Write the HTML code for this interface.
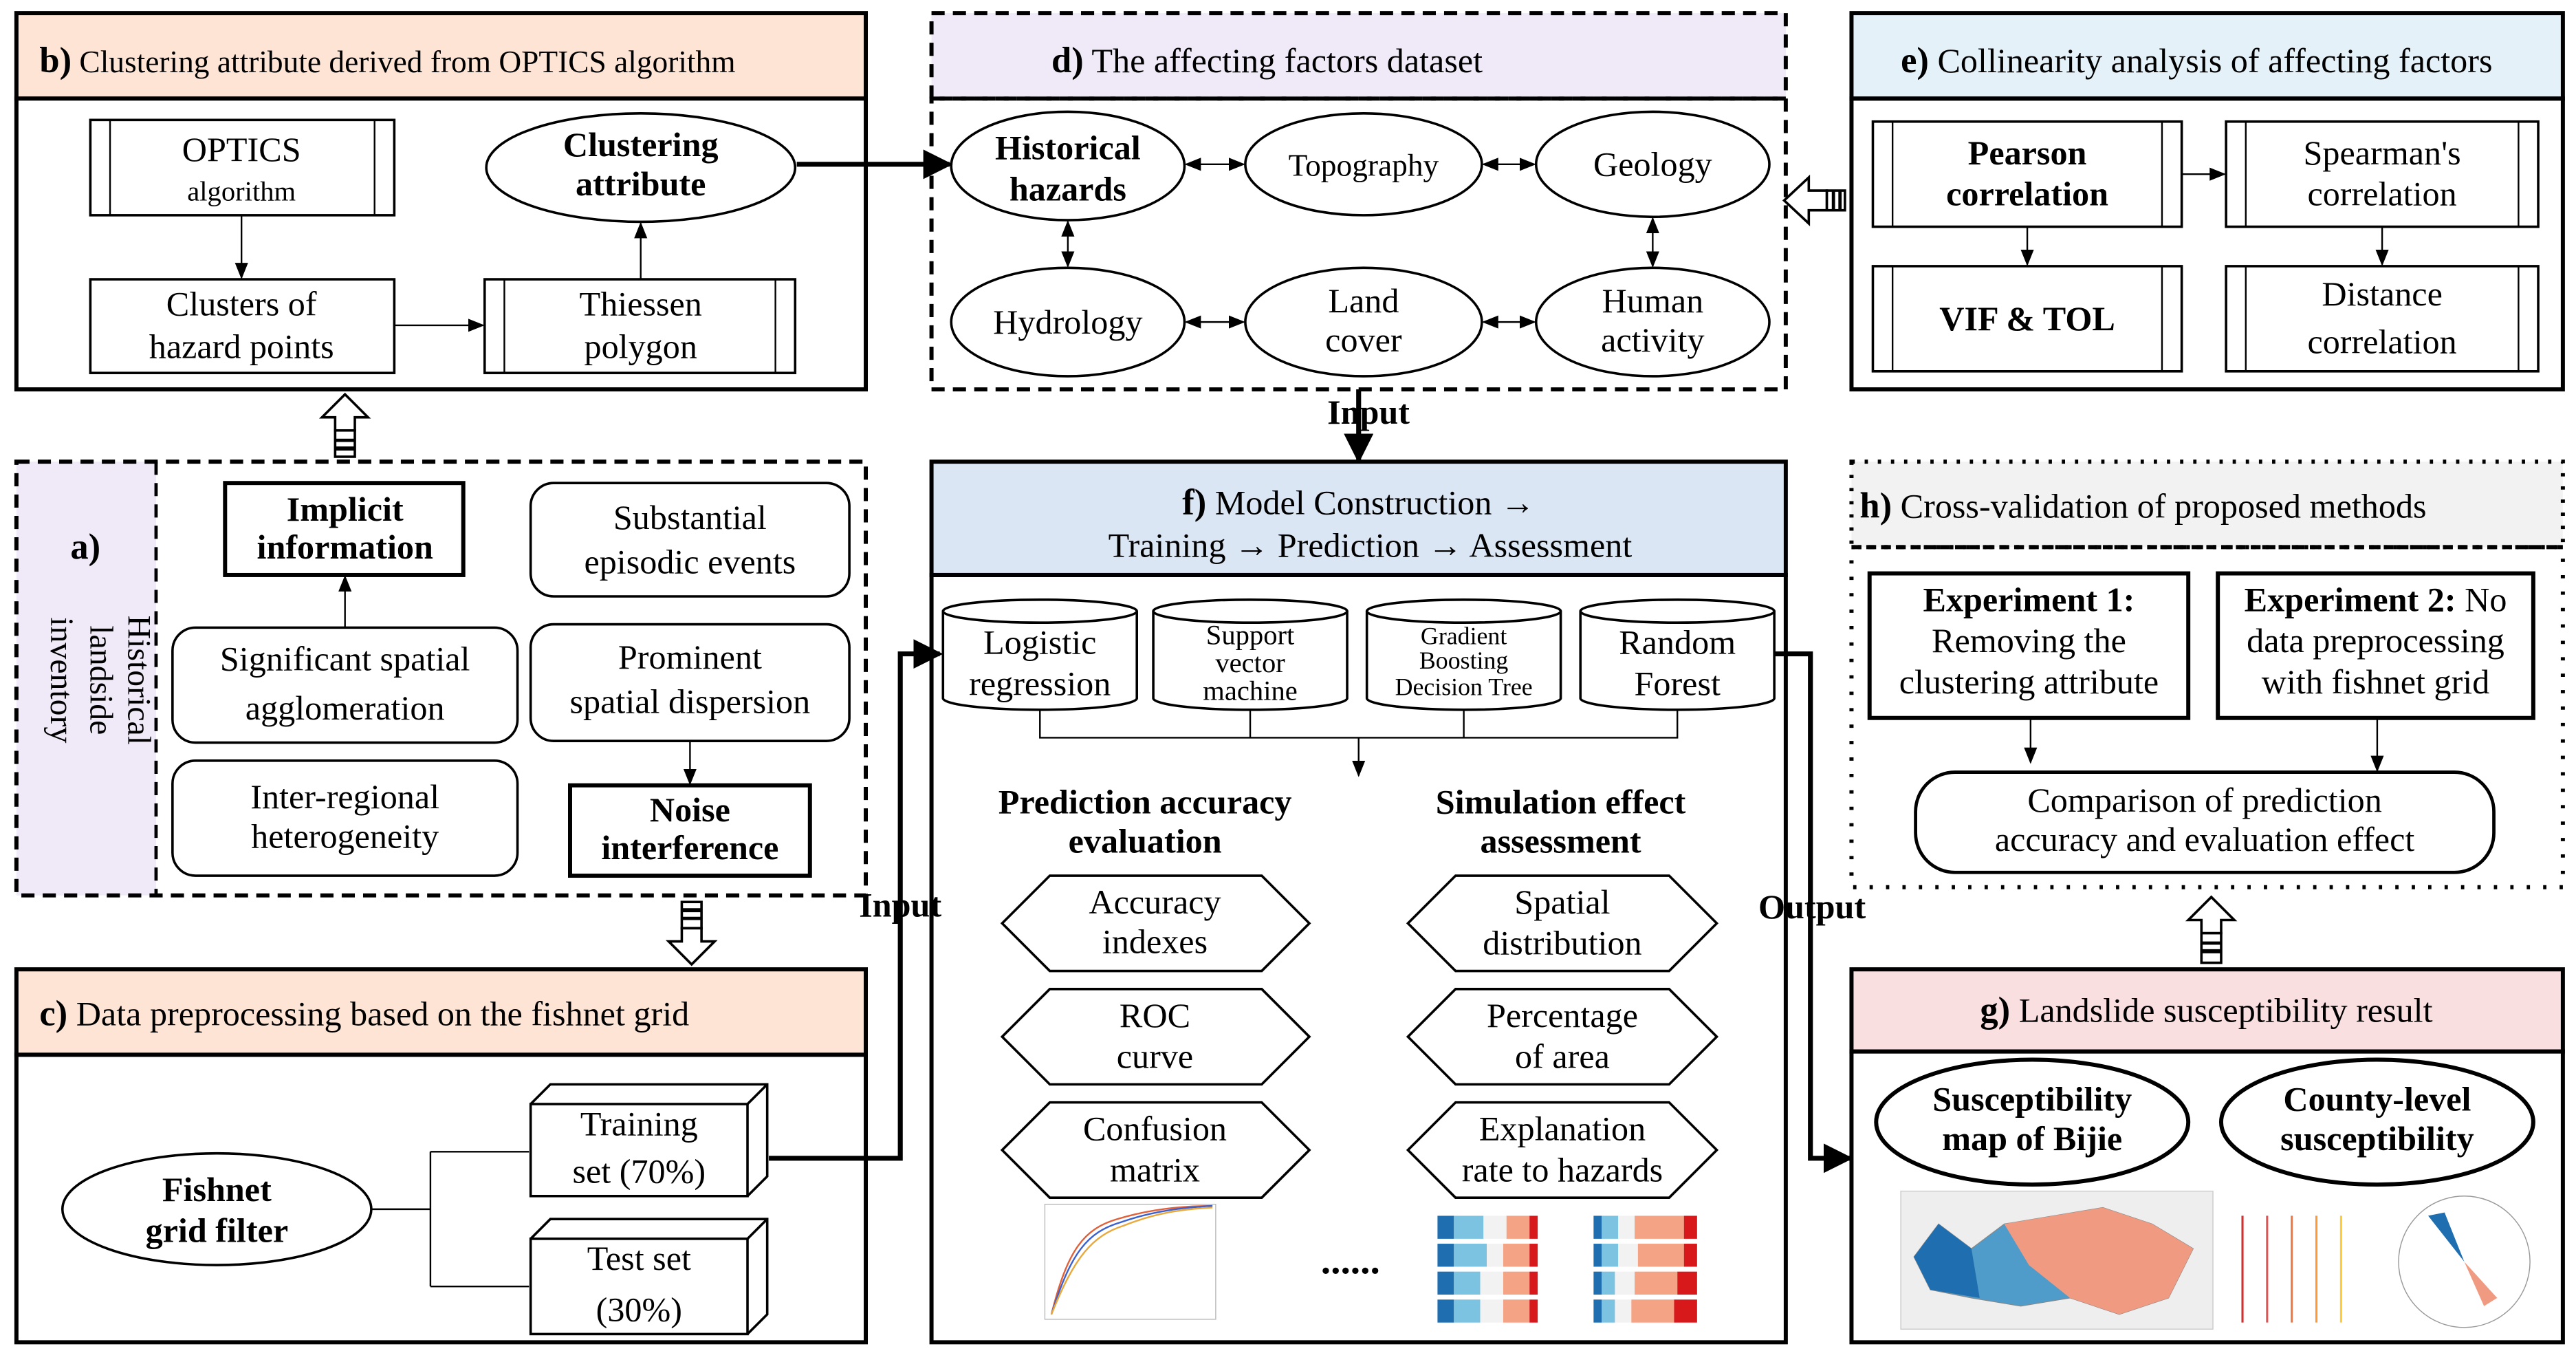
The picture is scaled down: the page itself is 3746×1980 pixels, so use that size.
<!DOCTYPE html>
<html><head><meta charset="utf-8"><style>
html,body{margin:0;padding:0;background:#fff}
svg{display:block}
text{font-family:"Liberation Serif","Times New Roman",serif;fill:#000}
.b{font-weight:bold}
</style></head><body>
<svg width="3746" height="1980" viewBox="0 0 1568 829" preserveAspectRatio="none" xmlns="http://www.w3.org/2000/svg" font-family="Liberation Serif, serif">
<defs>
<marker id="a" markerWidth="10" markerHeight="10" refX="9" refY="5" orient="auto" markerUnits="userSpaceOnUse"><path d="M0,1 L10,5 L0,9 z" fill="#000"/></marker>
<marker id="as" markerWidth="10" markerHeight="10" refX="1" refY="5" orient="auto" markerUnits="userSpaceOnUse"><path d="M10,1 L0,5 L10,9 z" fill="#000"/></marker>
<marker id="A" markerWidth="18" markerHeight="18" refX="16" refY="9" orient="auto" markerUnits="userSpaceOnUse"><path d="M0,0 L18,9 L0,18 z" fill="#000"/></marker>
</defs>
<g fill="none" stroke="#000">
<rect x="10" y="8" width="517" height="52" fill="#fde4d4" stroke-width="2.5"/>
<rect x="10" y="60" width="517" height="177" fill="#fff" stroke-width="2.5"/>
<rect x="55" y="73" width="185" height="58" stroke-width="1.5"/><line x1="67" y1="73" x2="67" y2="131"/><line x1="228" y1="73" x2="228" y2="131"/>
<rect x="55" y="170" width="185" height="57" stroke-width="1.5"/>
<rect x="295" y="170" width="189" height="57" stroke-width="1.5"/><line x1="307" y1="170" x2="307" y2="227"/><line x1="472" y1="170" x2="472" y2="227"/>
<ellipse cx="390" cy="102" rx="94" ry="33" stroke-width="1.5"/>
<line x1="147" y1="131" x2="147" y2="169" marker-end="url(#a)"/>
<line x1="240" y1="198" x2="294" y2="198" marker-end="url(#a)"/>
<line x1="390" y1="170" x2="390" y2="136" marker-end="url(#a)"/>
<line x1="485" y1="100" x2="578" y2="100" stroke-width="3" marker-end="url(#A)"/>
<rect x="567" y="8" width="520" height="52" fill="#f0e9f7" stroke-width="2.5" stroke-dasharray="8,5"/>
<rect x="567" y="60" width="520" height="177" stroke-width="2.5" stroke-dasharray="8,5"/>
<line x1="567" y1="60" x2="1087" y2="60" stroke-width="2" stroke-dasharray="10,4,2,4"/>
<ellipse cx="650" cy="101" rx="71" ry="33" stroke-width="1.5"/>
<ellipse cx="830" cy="100" rx="72" ry="31" stroke-width="1.5"/>
<ellipse cx="1006" cy="100" rx="71" ry="32" stroke-width="1.5"/>
<ellipse cx="650" cy="196" rx="71" ry="33" stroke-width="1.5"/>
<ellipse cx="830" cy="196" rx="72" ry="33" stroke-width="1.5"/>
<ellipse cx="1006" cy="196" rx="71" ry="33" stroke-width="1.5"/>
<line x1="722" y1="100" x2="757" y2="100" marker-start="url(#as)" marker-end="url(#a)"/>
<line x1="903" y1="100" x2="934" y2="100" marker-start="url(#as)" marker-end="url(#a)"/>
<line x1="722" y1="196" x2="757" y2="196" marker-start="url(#as)" marker-end="url(#a)"/>
<line x1="903" y1="196" x2="934" y2="196" marker-start="url(#as)" marker-end="url(#a)"/>
<line x1="650" y1="135" x2="650" y2="162" marker-start="url(#as)" marker-end="url(#a)"/>
<line x1="1006" y1="133" x2="1006" y2="162" marker-start="url(#as)" marker-end="url(#a)"/>
<rect x="1127" y="8" width="433" height="52" fill="#e4f1f9" stroke-width="2.5"/>
<rect x="1127" y="60" width="433" height="177" stroke-width="2.5"/>
<rect x="1140" y="74" width="188" height="64" stroke-width="1.5"/><line x1="1152" y1="74" x2="1152" y2="138"/><line x1="1316" y1="74" x2="1316" y2="138"/>
<rect x="1355" y="74" width="190" height="64" stroke-width="1.5"/><line x1="1367" y1="74" x2="1367" y2="138"/><line x1="1533" y1="74" x2="1533" y2="138"/>
<rect x="1140" y="162" width="188" height="64" stroke-width="1.5"/><line x1="1152" y1="162" x2="1152" y2="226"/><line x1="1316" y1="162" x2="1316" y2="226"/>
<rect x="1355" y="162" width="190" height="64" stroke-width="1.5"/><line x1="1367" y1="162" x2="1367" y2="226"/><line x1="1533" y1="162" x2="1533" y2="226"/>
<line x1="1328" y1="106" x2="1354" y2="106" marker-end="url(#a)"/>
<line x1="1234" y1="138" x2="1234" y2="161" marker-end="url(#a)"/>
<line x1="1450" y1="138" x2="1450" y2="161" marker-end="url(#a)"/>
<path d="M1086,122 L1101,108 L1101,116 L1112,116 L1112,128 L1101,128 L1101,136 Z" fill="#fff" stroke-width="1.5"/>
<rect x="1112" y="116" width="11" height="12" fill="#fff" stroke-width="1.5"/><line x1="1116" y1="116" x2="1116" y2="128" stroke-width="2"/><line x1="1120" y1="116" x2="1120" y2="128" stroke-width="2"/>
<rect x="10" y="281" width="85" height="264" fill="#f0e9f7" stroke="none"/>
<rect x="10" y="281" width="517" height="264" stroke-width="2.5" stroke-dasharray="8,5"/>
<line x1="95" y1="281" x2="95" y2="545" stroke-width="2" stroke-dasharray="8,5"/>
<rect x="137" y="294" width="145" height="56" stroke-width="2.5"/>
<rect x="323" y="294" width="194" height="69" rx="14" stroke-width="1.5"/>
<rect x="105" y="382" width="210" height="70" rx="14" stroke-width="1.5"/>
<rect x="323" y="380" width="194" height="71" rx="14" stroke-width="1.5"/>
<rect x="105" y="463" width="210" height="70" rx="14" stroke-width="1.5"/>
<rect x="347" y="478" width="146" height="55" stroke-width="2.5"/>
<line x1="210" y1="382" x2="210" y2="351" marker-end="url(#a)"/>
<line x1="420" y1="451" x2="420" y2="477" marker-end="url(#a)"/>
<path d="M210,240 L224,254 L216,254 L216,262 L204,262 L204,254 L196,254 Z" fill="#fff" stroke-width="1.5"/>
<rect x="204" y="262" width="12" height="16" fill="#fff" stroke-width="1.5"/><line x1="204" y1="268" x2="216" y2="268" stroke-width="2"/><line x1="204" y1="273" x2="216" y2="273" stroke-width="2.5"/>
<rect x="415" y="549" width="12" height="16" fill="#fff" stroke-width="1.5"/><line x1="415" y1="554" x2="427" y2="554" stroke-width="2.5"/><line x1="415" y1="559" x2="427" y2="559" stroke-width="2"/>
<path d="M415,565 L427,565 L427,573 L435,573 L421,587 L407,573 L415,573 Z" fill="#fff" stroke-width="1.5"/>
<rect x="10" y="590" width="517" height="52" fill="#fde4d4" stroke-width="2.5"/>
<rect x="10" y="642" width="517" height="175" stroke-width="2.5"/>
<ellipse cx="132" cy="736" rx="94" ry="34" stroke-width="1.5"/>
<path d="M323,672 L335,660 L467,660 L467,716 L455,728 M455,672 L467,660" stroke-width="1.5"/>
<rect x="323" y="672" width="132" height="56" stroke-width="1.5"/>
<path d="M323,754 L335,742 L467,742 L467,800 L455,812 M455,754 L467,742" stroke-width="1.5"/>
<rect x="323" y="754" width="132" height="58" stroke-width="1.5"/>
<path d="M226,736 L262,736 M262,701 L262,783 M262,701 L322,701 M262,783 L322,783" stroke-width="1"/>
<path d="M468,705 L548,705 L548,398 L572,398" stroke-width="3" marker-end="url(#A)"/>
<rect x="567" y="281" width="520" height="69" fill="#dbe6f4" stroke-width="2.5"/>
<rect x="567" y="350" width="520" height="467" stroke-width="2.5"/>
<line x1="827" y1="237" x2="827" y2="280" stroke-width="3" marker-end="url(#A)"/>
<g stroke-width="1.5">
<path d="M574,372 L574,425 A59,7 0 0 0 692,425 L692,372"/><ellipse cx="633" cy="372" rx="59" ry="7"/>
<path d="M702,372 L702,425 A59,7 0 0 0 820,425 L820,372"/><ellipse cx="761" cy="372" rx="59" ry="7"/>
<path d="M832,372 L832,425 A59,7 0 0 0 950,425 L950,372"/><ellipse cx="891" cy="372" rx="59" ry="7"/>
<path d="M962,372 L962,425 A59,7 0 0 0 1080,425 L1080,372"/><ellipse cx="1021" cy="372" rx="59" ry="7"/>
</g>
<path d="M633,432 L633,449 L1021,449 L1021,432 M761,432 L761,449 M891,432 L891,449"/>
<line x1="827" y1="449" x2="827" y2="472" marker-end="url(#a)"/>
<g stroke-width="1.5">
<path d="M639,533 L768,533 L797,562 L768,591 L639,591 L610,562 Z"/>
<path d="M639,602 L768,602 L797,631 L768,660 L639,660 L610,631 Z"/>
<path d="M639,671 L768,671 L797,700 L768,729 L639,729 L610,700 Z"/>
<path d="M886,533 L1016,533 L1045,562 L1016,591 L886,591 L857,562 Z"/>
<path d="M886,602 L1016,602 L1045,631 L1016,660 L886,660 L857,631 Z"/>
<path d="M886,671 L1016,671 L1045,700 L1016,729 L886,729 L857,700 Z"/>
</g>
<rect x="636" y="733" width="104" height="70" stroke="#bbb" stroke-width="0.6"/>
<path d="M640,800 C650,760 660,748 680,742 C700,736 720,734 738,734" stroke="#e0603a" stroke-width="1"/>
<path d="M640,800 C652,762 662,750 682,744 C702,737 720,735 738,734" stroke="#3a5fcf" stroke-width="1"/>
<path d="M640,800 C654,765 665,752 684,746 C704,738 720,736 738,735" stroke="#e8a83a" stroke-width="1"/>
<g stroke="none">
<rect x="875" y="740" width="10" height="14" fill="#1f6fb0"/><rect x="885" y="740" width="18" height="14" fill="#7cc3e2"/><rect x="903" y="740" width="14" height="14" fill="#f2f2f2"/><rect x="917" y="740" width="14" height="14" fill="#f4a384"/><rect x="931" y="740" width="5" height="14" fill="#d7191c"/>
<rect x="875" y="757" width="10" height="14" fill="#1f6fb0"/><rect x="885" y="757" width="20" height="14" fill="#7cc3e2"/><rect x="905" y="757" width="10" height="14" fill="#f2f2f2"/><rect x="915" y="757" width="16" height="14" fill="#f4a384"/><rect x="931" y="757" width="5" height="14" fill="#d7191c"/>
<rect x="875" y="774" width="10" height="14" fill="#1f6fb0"/><rect x="885" y="774" width="16" height="14" fill="#7cc3e2"/><rect x="901" y="774" width="14" height="14" fill="#f2f2f2"/><rect x="915" y="774" width="16" height="14" fill="#f4a384"/><rect x="931" y="774" width="5" height="14" fill="#d7191c"/>
<rect x="875" y="791" width="10" height="14" fill="#1f6fb0"/><rect x="885" y="791" width="16" height="14" fill="#7cc3e2"/><rect x="901" y="791" width="14" height="14" fill="#f2f2f2"/><rect x="915" y="791" width="16" height="14" fill="#f4a384"/><rect x="931" y="791" width="5" height="14" fill="#d7191c"/>
<rect x="970" y="740" width="5" height="14" fill="#1f6fb0"/><rect x="975" y="740" width="10" height="14" fill="#7cc3e2"/><rect x="985" y="740" width="10" height="14" fill="#f2f2f2"/><rect x="995" y="740" width="30" height="14" fill="#f4a384"/><rect x="1025" y="740" width="8" height="14" fill="#d7191c"/>
<rect x="970" y="757" width="5" height="14" fill="#1f6fb0"/><rect x="975" y="757" width="10" height="14" fill="#7cc3e2"/><rect x="985" y="757" width="12" height="14" fill="#f2f2f2"/><rect x="997" y="757" width="28" height="14" fill="#f4a384"/><rect x="1025" y="757" width="8" height="14" fill="#d7191c"/>
<rect x="970" y="774" width="5" height="14" fill="#1f6fb0"/><rect x="975" y="774" width="8" height="14" fill="#7cc3e2"/><rect x="983" y="774" width="12" height="14" fill="#f2f2f2"/><rect x="995" y="774" width="26" height="14" fill="#f4a384"/><rect x="1021" y="774" width="12" height="14" fill="#d7191c"/>
<rect x="970" y="791" width="5" height="14" fill="#1f6fb0"/><rect x="975" y="791" width="8" height="14" fill="#7cc3e2"/><rect x="983" y="791" width="10" height="14" fill="#f2f2f2"/><rect x="993" y="791" width="26" height="14" fill="#f4a384"/><rect x="1019" y="791" width="14" height="14" fill="#d7191c"/>
</g>
<path d="M1080,398 L1102,398 L1102,705 L1126,705" stroke-width="3" marker-end="url(#A)"/>
<rect x="1127" y="281" width="433" height="52" fill="#f2f2f2" stroke-width="2.5" stroke-dasharray="2,6"/>
<line x1="1127" y1="333" x2="1560" y2="333" stroke-width="2.5" stroke-dasharray="6,3"/>
<rect x="1127" y="333" width="433" height="207" stroke-width="2.5" stroke-dasharray="2,8"/>
<rect x="1138" y="349" width="194" height="88" stroke-width="2.5"/>
<rect x="1350" y="349" width="192" height="88" stroke-width="2.5"/>
<rect x="1166" y="470" width="352" height="61" rx="24" stroke-width="2"/>
<line x1="1236" y1="437" x2="1236" y2="464" marker-end="url(#a)"/>
<line x1="1447" y1="437" x2="1447" y2="469" marker-end="url(#a)"/>
<path d="M1346,546 L1360,560 L1352,560 L1352,568 L1340,568 L1340,560 L1332,560 Z" fill="#fff" stroke-width="1.5"/>
<rect x="1340" y="568" width="12" height="18" fill="#fff" stroke-width="1.5"/><line x1="1340" y1="574" x2="1352" y2="574" stroke-width="2"/><line x1="1340" y1="579" x2="1352" y2="579" stroke-width="2.5"/>
<rect x="1127" y="590" width="433" height="50" fill="#f9dfdf" stroke-width="2.5"/>
<rect x="1127" y="640" width="433" height="177" stroke-width="2.5"/>
<ellipse cx="1237" cy="683" rx="95" ry="38" stroke-width="2.5"/>
<ellipse cx="1447" cy="683" rx="95" ry="38" stroke-width="2.5"/>
<rect x="1157" y="725" width="190" height="84" fill="#eee" stroke="#ccc" stroke-width="0.6"/>
<path d="M1165,765 L1180,745 L1200,760 L1220,745 L1250,740 L1280,735 L1310,745 L1335,760 L1320,790 L1290,800 L1260,790 L1230,795 L1200,790 L1175,785 Z" fill="#4f9ccb" stroke="#888" stroke-width="0.5"/>
<path d="M1220,745 L1250,740 L1280,735 L1310,745 L1335,760 L1320,790 L1290,800 L1260,790 L1235,770 Z" fill="#f09a82" stroke="none"/>
<path d="M1165,765 L1180,745 L1200,760 L1205,790 L1175,785 Z" fill="#1f6fb0" stroke="none"/>
<g stroke-width="1.3"><path d="M1365,740 L1365,805" stroke="#c33"/><path d="M1380,740 L1380,805" stroke="#d55"/><path d="M1395,740 L1395,805" stroke="#e74"/><path d="M1410,740 L1410,805" stroke="#f93"/><path d="M1425,740 L1425,805" stroke="#fc3"/></g>
<circle cx="1500" cy="768" r="40" stroke="#999" stroke-width="0.6"/>
<path d="M1500,768 L1478,740 L1488,738 Z" fill="#1f6fb0" stroke="none"/><path d="M1500,768 L1520,790 L1512,795 Z" fill="#f09a82" stroke="none"/>
</g>
<g font-size="21">
<text x="24" y="44"><tspan class="b" font-size="22">b)</tspan><tspan font-size="19"> Clustering attribute derived from OPTICS algorithm</tspan></text>
<text x="147" y="98" text-anchor="middle">OPTICS</text>
<text x="147" y="122" text-anchor="middle" font-size="17">algorithm</text>
<text x="147" y="192" text-anchor="middle">Clusters of</text>
<text x="147" y="218" text-anchor="middle">hazard points</text>
<text x="390" y="192" text-anchor="middle">Thiessen</text>
<text x="390" y="218" text-anchor="middle">polygon</text>
<text x="390" y="95" text-anchor="middle" class="b">Clustering</text>
<text x="390" y="119" text-anchor="middle" class="b">attribute</text>
<text x="640" y="44"><tspan class="b" font-size="22">d)</tspan> The affecting factors dataset</text>
<text x="650" y="97" text-anchor="middle" class="b">Historical</text>
<text x="650" y="122" text-anchor="middle" class="b">hazards</text>
<text x="830" y="107" text-anchor="middle" font-size="19">Topography</text>
<text x="1006" y="107" text-anchor="middle">Geology</text>
<text x="650" y="203" text-anchor="middle">Hydrology</text>
<text x="830" y="190" text-anchor="middle">Land</text>
<text x="830" y="214" text-anchor="middle">cover</text>
<text x="1006" y="190" text-anchor="middle">Human</text>
<text x="1006" y="214" text-anchor="middle">activity</text>
<text x="1157" y="44"><tspan class="b" font-size="22">e)</tspan> Collinearity analysis of affecting factors</text>
<text x="1234" y="100" text-anchor="middle" class="b">Pearson</text>
<text x="1234" y="125" text-anchor="middle" class="b">correlation</text>
<text x="1450" y="100" text-anchor="middle">Spearman's</text>
<text x="1450" y="125" text-anchor="middle">correlation</text>
<text x="1234" y="201" text-anchor="middle" class="b">VIF &amp; TOL</text>
<text x="1450" y="186" text-anchor="middle">Distance</text>
<text x="1450" y="215" text-anchor="middle">correlation</text>
<text x="52" y="340" text-anchor="middle" class="b" font-size="22">a)</text>
<g transform="translate(78,414) rotate(90)"><text text-anchor="middle" font-size="20">Historical</text></g>
<g transform="translate(55,414) rotate(90)"><text text-anchor="middle" font-size="20">landside</text></g>
<g transform="translate(31,414) rotate(90)"><text text-anchor="middle" font-size="20">inventory</text></g>
<text x="210" y="317" text-anchor="middle" class="b">Implicit</text>
<text x="210" y="340" text-anchor="middle" class="b">information</text>
<text x="420" y="322" text-anchor="middle">Substantial</text>
<text x="420" y="349" text-anchor="middle">episodic events</text>
<text x="210" y="408" text-anchor="middle">Significant spatial</text>
<text x="210" y="438" text-anchor="middle">agglomeration</text>
<text x="420" y="407" text-anchor="middle">Prominent</text>
<text x="420" y="434" text-anchor="middle">spatial dispersion</text>
<text x="210" y="492" text-anchor="middle">Inter-regional</text>
<text x="210" y="516" text-anchor="middle">heterogeneity</text>
<text x="420" y="500" text-anchor="middle" class="b">Noise</text>
<text x="420" y="523" text-anchor="middle" class="b">interference</text>
<text x="24" y="624"><tspan class="b" font-size="22">c)</tspan> Data preprocessing based on the fishnet grid</text>
<text x="132" y="731" text-anchor="middle" class="b">Fishnet</text>
<text x="132" y="756" text-anchor="middle" class="b">grid filter</text>
<text x="389" y="691" text-anchor="middle">Training</text>
<text x="389" y="720" text-anchor="middle">set (70%)</text>
<text x="389" y="773" text-anchor="middle">Test set</text>
<text x="389" y="804" text-anchor="middle">(30%)</text>
<text x="548" y="558" text-anchor="middle" class="b">Input</text>
<text x="833" y="258" text-anchor="middle" class="b">Input</text>
<text x="827" y="313" text-anchor="middle"><tspan class="b" font-size="22">f)</tspan> Model Construction →</text>
<text x="834" y="339" text-anchor="middle">Training → Prediction → Assessment</text>
<text x="633" y="398" text-anchor="middle">Logistic</text>
<text x="633" y="423" text-anchor="middle">regression</text>
<text x="761" y="392" text-anchor="middle" font-size="17">Support</text>
<text x="761" y="409" text-anchor="middle" font-size="17">vector</text>
<text x="761" y="426" text-anchor="middle" font-size="17">machine</text>
<text x="891" y="392" text-anchor="middle" font-size="15">Gradient</text>
<text x="891" y="407" text-anchor="middle" font-size="15">Boosting</text>
<text x="891" y="423" text-anchor="middle" font-size="15">Decision Tree</text>
<text x="1021" y="398" text-anchor="middle">Random</text>
<text x="1021" y="423" text-anchor="middle">Forest</text>
<text x="697" y="495" text-anchor="middle" class="b">Prediction accuracy</text>
<text x="697" y="519" text-anchor="middle" class="b">evaluation</text>
<text x="950" y="495" text-anchor="middle" class="b">Simulation effect</text>
<text x="950" y="519" text-anchor="middle" class="b">assessment</text>
<text x="703" y="556" text-anchor="middle">Accuracy</text>
<text x="703" y="580" text-anchor="middle">indexes</text>
<text x="703" y="625" text-anchor="middle">ROC</text>
<text x="703" y="650" text-anchor="middle">curve</text>
<text x="703" y="694" text-anchor="middle">Confusion</text>
<text x="703" y="719" text-anchor="middle">matrix</text>
<text x="951" y="556" text-anchor="middle">Spatial</text>
<text x="951" y="581" text-anchor="middle">distribution</text>
<text x="951" y="625" text-anchor="middle">Percentage</text>
<text x="951" y="650" text-anchor="middle">of area</text>
<text x="951" y="694" text-anchor="middle">Explanation</text>
<text x="951" y="719" text-anchor="middle">rate to hazards</text>
<text x="822" y="775" text-anchor="middle" class="b" font-size="24">......</text>
<text x="1103" y="559" text-anchor="middle" class="b">Output</text>
<text x="1132" y="315"><tspan class="b" font-size="22">h)</tspan> Cross-validation of  proposed methods</text>
<text x="1235" y="372" text-anchor="middle" class="b">Experiment 1:</text>
<text x="1235" y="397" text-anchor="middle">Removing the</text>
<text x="1235" y="422" text-anchor="middle">clustering attribute</text>
<text x="1446" y="372" text-anchor="middle"><tspan class="b">Experiment 2:</tspan> No</text>
<text x="1446" y="397" text-anchor="middle">data preprocessing</text>
<text x="1446" y="422" text-anchor="middle">with fishnet grid</text>
<text x="1342" y="494" text-anchor="middle">Comparison of prediction</text>
<text x="1342" y="518" text-anchor="middle">accuracy and evaluation effect</text>
<text x="1343" y="622" text-anchor="middle"><tspan class="b" font-size="22">g)</tspan> Landslide susceptibility result</text>
<text x="1237" y="676" text-anchor="middle" class="b">Susceptibility</text>
<text x="1237" y="700" text-anchor="middle" class="b">map of Bijie</text>
<text x="1447" y="676" text-anchor="middle" class="b">County-level</text>
<text x="1447" y="700" text-anchor="middle" class="b">susceptibility</text>
</g>
</svg>
</body></html>
